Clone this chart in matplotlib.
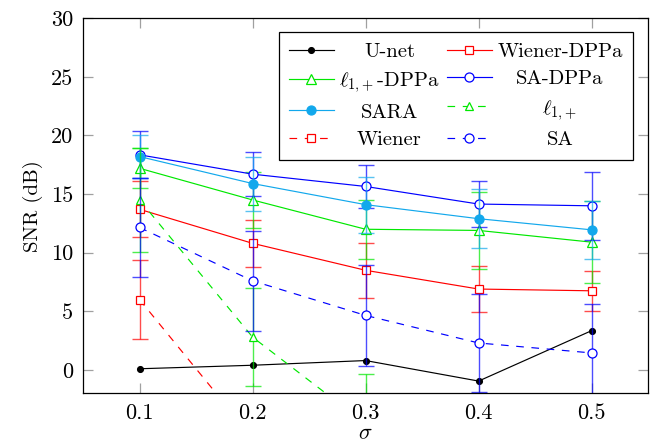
import matplotlib
matplotlib.use('Agg')
import matplotlib.pyplot as plt

plt.rcParams['font.family'] = ['cmr10', 'DejaVu Serif']
plt.rcParams['mathtext.fontset'] = 'cm'
plt.rcParams['axes.unicode_minus'] = False
plt.rcParams['axes.formatter.use_mathtext'] = True
plt.rcParams['lines.scale_dashes'] = False

sigma = [0.1, 0.2, 0.3, 0.4, 0.5]
unet = [0.1, 0.4, 0.8, -0.95, 3.35]
wiener_dppa = [13.7, 10.8, 8.5, 6.9, 6.75]
wiener_dppa_err = [2.4, 2.0, 2.35, 1.95, 1.7]
l1_dppa = [17.2, 14.5, 12.0, 11.9, 10.9]
l1_dppa_err = [1.7, 2.4, 2.5, 3.3, 3.5]
sa_dppa = [18.35, 16.7, 15.65, 14.15, 14.0]
sa_dppa_err = [2.0, 1.85, 1.8, 1.95, 2.9]
sara = [18.2, 15.9, 14.1, 12.9, 11.95]
sara_err = [1.8, 2.3, 2.4, 2.5, 2.5]
l1 = [14.5, 2.8, -4.6, -9.0, -11.0]
l1_err = [4.4, 4.2, 4.25, 4.0, 4.0]
wiener = [6.0, -5.8, -10.0, -12.0, -14.0]
wiener_err = [3.4, 3.4, 3.4, 3.4, 3.4]
sa = [12.15, 7.6, 4.65, 2.3, 1.45]
sa_err = [4.2, 4.25, 4.3, 4.2, 4.2]

xticks = [0.1, 0.2, 0.3, 0.4, 0.5]
yticks = [0, 5, 10, 15, 20, 25, 30]

RED = '#ff0000'
GREEN = '#00e800'
BLUE = '#0000ff'
CYAN = '#12a8ec'
BLACK = '#000000'

fig = plt.figure(figsize=(6.54, 4.45), dpi=100)
ax = fig.add_axes([0.127, 0.116, 0.864, 0.843])

lw = 0.85
dash = (0, (5.5, 5.5))

L1D = r'$\ell_{1,\!+}$-DPPa'
L1 = r'$\ell_{1,\!+}$'

series = [
    ('U-net', unet, None, BLACK, '-', 'o', True, 4.2),
    ('Wiener-DPPa', wiener_dppa, wiener_dppa_err, RED, '-', 's', False, 6.0),
    (L1D, l1_dppa, l1_dppa_err, GREEN, '-', '^', False, 7.0),
    ('SA-DPPa', sa_dppa, sa_dppa_err, BLUE, '-', 'o', False, 6.5),
    ('SARA', sara, sara_err, CYAN, '-', 'o', True, 6.5),
    (L1, l1, l1_err, GREEN, dash, '^', False, 6.0),
    ('Wiener', wiener, wiener_err, RED, dash, 's', False, 6.0),
    ('SA', sa, sa_err, BLUE, dash, 'o', False, 6.5),
]

handles = {}
for name, vals, err, col, ls, mk, filled, ms in series:
    if err is not None:
        ax.errorbar(sigma, vals, yerr=err, fmt='none', ecolor=col,
                    elinewidth=1.0, capsize=5.5, capthick=1.0, alpha=0.7)
    h, = ax.plot(sigma, vals, color=col, linestyle=ls, linewidth=lw,
                 marker=mk, markersize=ms,
                 markerfacecolor=col if filled else 'white',
                 markeredgecolor=col, markeredgewidth=0.9, label=name)
    handles[name] = h

ax.set_xlim(0.05, 0.55)
ax.set_ylim(-2, 30)
ax.set_xticks(xticks)
ax.set_xticklabels([f'{v:.1f}' for v in xticks])
ax.set_yticks(yticks)
ax.set_yticklabels([str(v) for v in yticks])
ax.tick_params(direction='in', length=7.5, width=0.9, color='#a0a0a0',
               top=True, right=True, labelsize=16, pad=7)
for s in ax.spines.values():
    s.set_linewidth(0.9)

ax.set_xlabel(r'$\sigma$', fontsize=16, labelpad=1)
ax.set_ylabel('SNR (dB)', fontsize=15, labelpad=6)

order = ['U-net', L1D, 'SARA', 'Wiener',
         'Wiener-DPPa', 'SA-DPPa', L1, 'SA']
leg = ax.legend([handles[k] for k in order], order, ncol=2,
                loc='upper right', bbox_to_anchor=(0.973, 0.963),
                borderaxespad=0, fontsize=14.8, frameon=True, fancybox=False,
                edgecolor='black', framealpha=1, handlelength=2.2,
                handletextpad=0.25, columnspacing=0.35, labelspacing=0.45,
                borderpad=0.5)
leg.get_frame().set_linewidth(0.9)

fig.canvas.draw()
texts = leg.get_texts()
for col in (texts[:4], texts[4:]):
    widths = [t.get_window_extent().width for t in col]
    mw = max(widths)
    for t, w in zip(col, widths):
        t.set_position(((mw - w) / 2.0, 0))

fig.savefig('out.png', dpi=100)
